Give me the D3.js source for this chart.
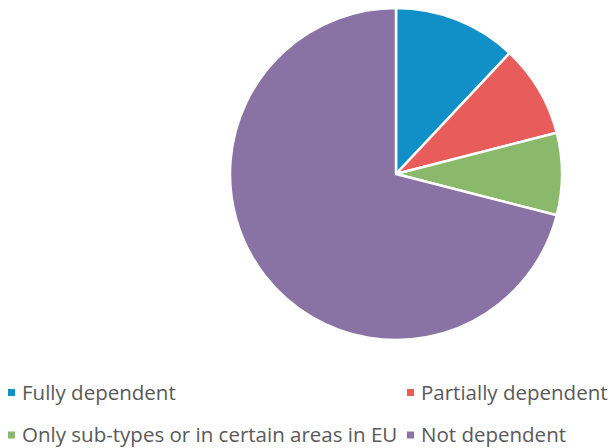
<!DOCTYPE html>
<html>
<head>
<meta charset="utf-8">
<script src="https://cdn.jsdelivr.net/npm/d3@7"></script>
<style>
  html, body { margin: 0; padding: 0; background: #fff; }
  svg { display: block; }
  .legend text { font-family: "Open Sans", "Liberation Sans", Arial, sans-serif; fill: #595959; }
</style>
</head>
<body>
<svg id="chart" width="611" height="448"></svg>
<script>
const categories = ["Fully dependent", "Partially dependent", "Only sub-types or in certain areas in EU", "Not dependent"];
const shares = [12, 9, 8, 71];
const colors = ["#1190C8", "#E85C5C", "#8AB96B", "#8973A4"];

const svg = d3.select("#chart");
const cx = 396, cy = 174, radius = 166;

const data = categories.map((c, i) => ({ name: c, value: shares[i], color: colors[i] }));

const pie = d3.pie().value(d => d.value).sort(null);
const arc = d3.arc().innerRadius(0).outerRadius(radius);

svg.append("g")
  .attr("transform", `translate(${cx},${cy})`)
  .selectAll("path")
  .data(pie(data))
  .join("path")
  .attr("d", arc)
  .attr("fill", d => d.data.color)
  .attr("stroke", "#fff")
  .attr("stroke-width", 2.5)
  .attr("stroke-linejoin", "round");

// Legend: two columns, two rows
const legendPos = [
  { x: 8, y: 392.5 },
  { x: 407, y: 392.5 },
  { x: 8, y: 435 },
  { x: 407, y: 435 }
];

const legend = svg.append("g").attr("class", "legend");
const items = legend.selectAll("g")
  .data(data)
  .join("g")
  .attr("transform", (d, i) => `translate(${legendPos[i].x},${legendPos[i].y})`);

items.append("rect")
  .attr("x", 0).attr("y", -3.5)
  .attr("width", 7).attr("height", 7)
  .attr("fill", d => d.color);

items.append("text")
  .attr("x", 14)
  .attr("y", 0)
  .attr("dy", "0.35em")
  .attr("font-size", 20.5)
  .text(d => d.name);
</script>
</body>
</html>
